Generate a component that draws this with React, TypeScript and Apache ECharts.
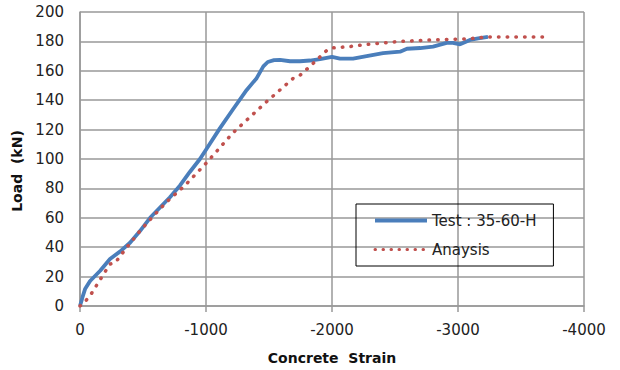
import React, { useEffect, useRef } from "react";
import * as echarts from "echarts";

const xTicks = [0, -1000, -2000, -3000, -4000];
const yTicks = [0, 20, 40, 60, 80, 100, 120, 140, 160, 180, 200];

const testName = "Test : 35-60-H";
const analysisName = "Anaysis";

const testStrain = [0, -20, -40, -80, -160, -238, -317, -397, -476, -556, -635, -714, -794, -870, -952, -1005, -1111, -1216, -1323, -1402, -1455, -1490, -1540, -1587, -1667, -1746, -1825, -1905, -2000, -2063, -2167, -2275, -2405, -2540, -2595, -2700, -2802, -2910, -2960, -3016, -3095, -3160, -3238];
const testLoad = [0, 6, 11.5, 17, 24, 32, 37, 43, 51, 60, 67, 74, 82, 91, 100, 107, 121, 134, 147, 155, 163, 166, 167.3, 167.5, 166.5, 166.5, 167, 168, 169.5, 168.3, 168.3, 170, 172, 173, 175, 175.5, 176.5, 179, 179, 178, 181, 182, 183];

const anaStrain = [0, -40, -80, -160, -238, -280, -373, -476, -580, -690, -833, -1005, -1216, -1481, -1693, -1746, -1825, -1905, -1960, -2008, -2143, -2278, -2540, -2802, -3071, -3230, -3730];
const anaLoad = [0, 3, 7, 18, 28.5, 29.5, 40, 51, 61, 71, 82, 97.5, 118, 139, 155, 157, 163, 169.5, 174, 175.6, 176.5, 178, 180, 181, 181.7, 183, 183];

export default function App() {
  const ref = useRef<HTMLDivElement>(null);
  useEffect(() => {
    if (!ref.current) return;
    const chart = echarts.init(ref.current, undefined, { renderer: "svg" });
    const font = "DejaVu Sans, Verdana, sans-serif";
    chart.setOption({
      animation: false,
      backgroundColor: "#ffffff",
      grid: { left: 80, right: 36, top: 12, bottom: 63 },
      legend: {
        orient: "vertical",
        left: 356,
        top: 204,
        padding: [9, 17, 9, 17],
        itemWidth: 52,
        itemHeight: 14,
        itemGap: 14,
        borderColor: "#000",
        borderWidth: 1,
        backgroundColor: "transparent",
        itemStyle: { opacity: 0 },
        textStyle: { fontSize: 15, color: "#222", fontFamily: font },
        data: [
          { name: testName, lineStyle: { width: 4 } },
          { name: analysisName, lineStyle: { width: 3, type: [0.5, 7.5], cap: "round" } },
        ],
      },
      xAxis: {
        type: "value",
        min: xTicks[xTicks.length - 1],
        max: xTicks[0],
        interval: 1000,
        inverse: true,
        name: "Concrete  Strain",
        nameLocation: "middle",
        nameGap: 45,
        nameTextStyle: { fontSize: 14, fontWeight: "bold", color: "#111", fontFamily: font },
        axisLine: { show: true, lineStyle: { color: "#999", width: 1.5 } },
        axisTick: { show: true, length: 6, lineStyle: { color: "#999", width: 1.5 } },
        axisLabel: { fontSize: 15, color: "#222", fontFamily: font, margin: 16, formatter: (v: number) => String(v) },
        splitLine: { show: true, lineStyle: { color: "#999", width: 1.5 } },
      },
      yAxis: {
        type: "value",
        min: yTicks[0],
        max: yTicks[yTicks.length - 1],
        interval: 20,
        name: "Load  (kN)",
        nameLocation: "middle",
        nameGap: 52,
        nameTextStyle: { fontSize: 14, fontWeight: "bold", color: "#111", fontFamily: font, padding: [0, 24, 0, 0] },
        axisLine: { show: true, lineStyle: { color: "#999", width: 1.5 } },
        axisTick: { show: false },
        axisLabel: { fontSize: 15, color: "#222", fontFamily: font, margin: 16 },
        splitLine: { show: true, lineStyle: { color: "#999", width: 1.5 } },
      },
      series: [
        {
          name: testName,
          type: "line",
          symbol: "none",
          data: testStrain.map((s, i) => [s, testLoad[i]]),
          lineStyle: { color: "#4a7ebb", width: 3.8 },
          itemStyle: { color: "#4a7ebb" },
          z: 3,
        },
        {
          name: analysisName,
          type: "line",
          symbol: "none",
          data: anaStrain.map((s, i) => [s, anaLoad[i]]),
          lineStyle: { color: "#c0504d", width: 3.5, type: [0.5, 8.2], cap: "round" },
          itemStyle: { color: "#c0504d" },
          z: 4,
        },
      ],
    });
    return () => chart.dispose();
  }, []);
  return <div ref={ref} style={{ width: 620, height: 370, position: "absolute", left: 0, top: 0 }} />;
}
